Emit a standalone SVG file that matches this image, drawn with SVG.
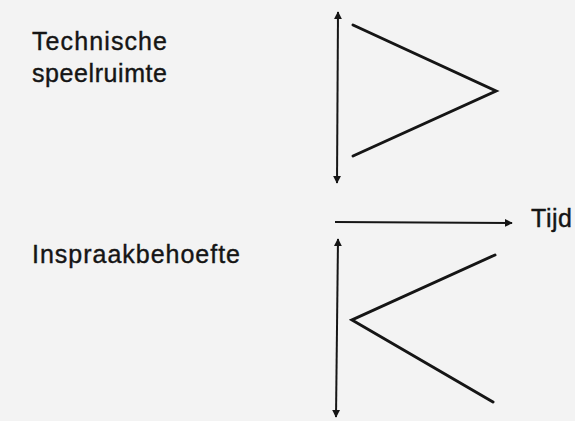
<svg xmlns="http://www.w3.org/2000/svg" width="575" height="421" viewBox="0 0 575 421">
<defs>
<style>
.lbl{font-family:"Liberation Sans",Arial,sans-serif;font-size:25px;fill:#151515;stroke:#151515;stroke-width:0.4}
.axis{stroke:#151515;stroke-width:2;fill:none}
.wedge{stroke:#151515;stroke-width:3;fill:none;stroke-linejoin:miter;stroke-linecap:round}
</style>
<marker id="ah" viewBox="0 0 10 10" refX="9" refY="5" markerWidth="4" markerHeight="4" orient="auto-start-reverse" markerUnits="strokeWidth">
<path d="M0,0 L10,5 L0,10 z" fill="#151515"/>
</marker>
</defs>
<rect x="0" y="0" width="575" height="421" fill="#f3f3f3"/>
<g id="label-technische">
<text class="lbl" x="32" y="50" textLength="135" lengthAdjust="spacing">Technische</text>
<text class="lbl" x="32" y="82" textLength="135" lengthAdjust="spacing">speelruimte</text>
</g>
<g id="label-inspraak">
<text class="lbl" x="32" y="263" textLength="208" lengthAdjust="spacing">Inspraakbehoefte</text>
</g>
<g id="label-tijd">
<text class="lbl" x="531" y="227" textLength="41" lengthAdjust="spacing">Tijd</text>
</g>
<g id="wedge-top">
<polyline class="wedge" points="353,25 496,91 353,156"/>
</g>
<g id="wedge-bottom">
<polyline class="wedge" points="495,255 352,320 493,402"/>
</g>
<g id="connectors">
<line class="axis" x1="338" y1="12" x2="337" y2="183" marker-start="url(#ah)" marker-end="url(#ah)"/>
<line class="axis" x1="338" y1="239" x2="336" y2="417" marker-start="url(#ah)" marker-end="url(#ah)"/>
<line class="axis" x1="335" y1="222" x2="512" y2="223" marker-end="url(#ah)"/>
</g>
</svg>
